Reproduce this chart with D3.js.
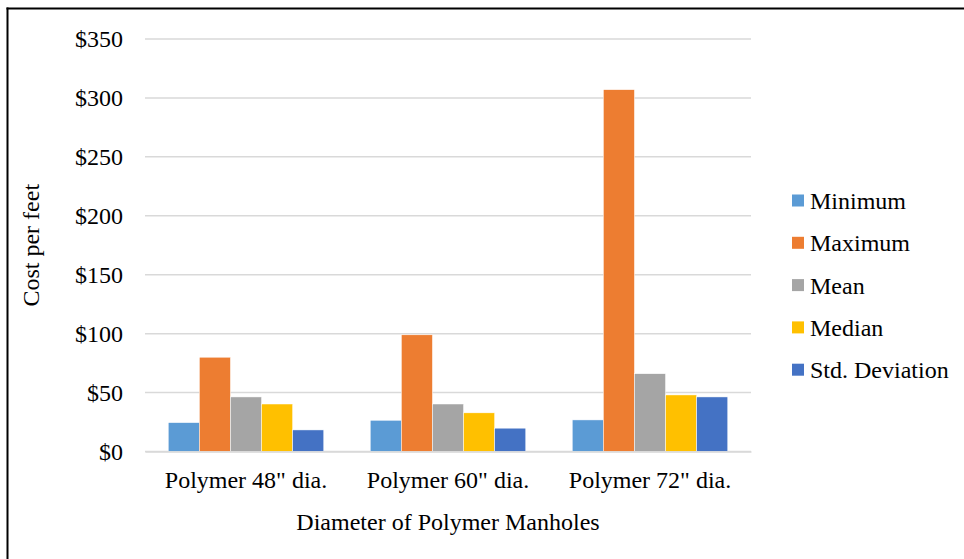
<!DOCTYPE html>
<html>
<head>
<meta charset="utf-8">
<script src="https://cdn.jsdelivr.net/npm/d3@7"></script>
<style>
  body { margin: 0; background: #fff; }
  #chart { width: 964px; height: 559px; }
  svg text { font-family: "Liberation Serif", "Times New Roman", serif; fill: #000; }
</style>
</head>
<body>
<div id="chart"></div>
<script>
// data
const categories = ['Polymer 48" dia.', 'Polymer 60" dia.', 'Polymer 72" dia.'];
const seriesNames = ["Minimum", "Maximum", "Mean", "Median", "Std. Deviation"];
const minimum = [24.5, 26.5, 26.8];
const maximum = [80, 99, 307];
const mean = [46.3, 40.3, 66];
const median = [40.3, 32.8, 48];
const stdDev = [18.3, 19.8, 46.3];
const yTicks = [0, 50, 100, 150, 200, 250, 300, 350];
const colors = ["#5B9BD5", "#ED7D31", "#A5A5A5", "#FFC000", "#4472C4"];

const seriesValues = [minimum, maximum, mean, median, stdDev];
const rows = categories.map((c, i) => ({
    category: c,
    values: seriesNames.map((s, j) => ({ key: s, value: seriesValues[j][i] }))
}));

const serif = '"Liberation Serif", "Times New Roman", serif';
const fontSize = 24;
const width = 964, height = 559;
const margin = { top: 39, right: 213, bottom: 107.5, left: 145 };
const innerWidth = width - margin.left - margin.right;
const innerHeight = height - margin.top - margin.bottom;

const svg = d3.select("#chart").append("svg")
    .attr("width", width)
    .attr("height", height)
    .attr("font-family", serif);

// outer frame, only the left and top edges are inside the picture
svg.append("line")
    .attr("x1", 7.5).attr("x2", 7.5)
    .attr("y1", 7.5).attr("y2", height)
    .attr("stroke", "#000").attr("stroke-width", 2);
svg.append("line")
    .attr("x1", 6.5).attr("x2", width)
    .attr("y1", 8.5).attr("y2", 8.5)
    .attr("stroke", "#000").attr("stroke-width", 2);

const g = svg.append("g")
    .attr("transform", `translate(${margin.left},${margin.top})`);

const x0 = d3.scaleBand()
    .domain(categories)
    .range([0, innerWidth])
    .paddingInner(0.23)
    .paddingOuter(0.115);

const x1 = d3.scaleBand()
    .domain(seriesNames)
    .range([0, x0.bandwidth()]);

const y = d3.scaleLinear()
    .domain([0, 350])
    .range([innerHeight, 0]);

const color = d3.scaleOrdinal().domain(seriesNames).range(colors);

// gridlines
g.append("g")
    .selectAll("line")
    .data(yTicks)
    .join("line")
    .attr("x1", 0)
    .attr("x2", innerWidth)
    .attr("y1", d => y(d))
    .attr("y2", d => y(d))
    .attr("stroke", "#d9d9d9")
    .attr("stroke-width", 1.5);

// y axis labels
const yAxis = d3.axisLeft(y)
    .tickValues(yTicks)
    .tickSize(0)
    .tickPadding(22)
    .tickFormat(d => "$" + d);

g.append("g")
    .call(yAxis)
    .attr("font-family", serif)
    .attr("font-size", fontSize)
    .call(a => a.select(".domain").remove())
    .selectAll("text")
    .attr("fill", "#000");

// bars
g.append("g")
    .selectAll("g")
    .data(rows)
    .join("g")
    .attr("transform", d => `translate(${x0(d.category)},0)`)
    .selectAll("rect")
    .data(d => d.values)
    .join("rect")
    .attr("x", d => x1(d.key))
    .attr("y", d => y(d.value))
    .attr("width", x1.bandwidth())
    .attr("height", d => y(0) - y(d.value))
    .attr("fill", d => color(d.key))
    .attr("stroke", "#fff")
    .attr("stroke-width", 0.5);

// x axis
const xAxis = d3.axisBottom(x0).tickSize(0).tickPadding(19);
g.append("g")
    .attr("transform", `translate(0,${innerHeight})`)
    .call(xAxis)
    .attr("font-family", serif)
    .attr("font-size", fontSize)
    .call(a => a.select(".domain")
        .attr("stroke", "#d9d9d9")
        .attr("stroke-width", 1.5))
    .selectAll("text")
    .attr("fill", "#000");

// axis titles
g.append("text")
    .attr("x", innerWidth / 2)
    .attr("y", innerHeight + 78)
    .attr("text-anchor", "middle")
    .attr("font-size", fontSize)
    .text("Diameter of Polymer Manholes");

g.append("text")
    .attr("transform", "rotate(-90)")
    .attr("x", -innerHeight / 2)
    .attr("y", -106)
    .attr("text-anchor", "middle")
    .attr("font-size", fontSize)
    .text("Cost per feet");

// legend
const legend = svg.append("g")
    .attr("transform", "translate(792,200.5)");

const item = legend.selectAll("g")
    .data(seriesNames)
    .join("g")
    .attr("transform", (d, i) => `translate(0,${i * 42.3})`);

item.append("rect")
    .attr("x", 0)
    .attr("y", -6)
    .attr("width", 12)
    .attr("height", 12)
    .attr("fill", d => color(d));

item.append("text")
    .attr("x", 18)
    .attr("y", 0)
    .attr("dy", "0.35em")
    .attr("font-size", fontSize)
    .text(d => d);
</script>
</body>
</html>
